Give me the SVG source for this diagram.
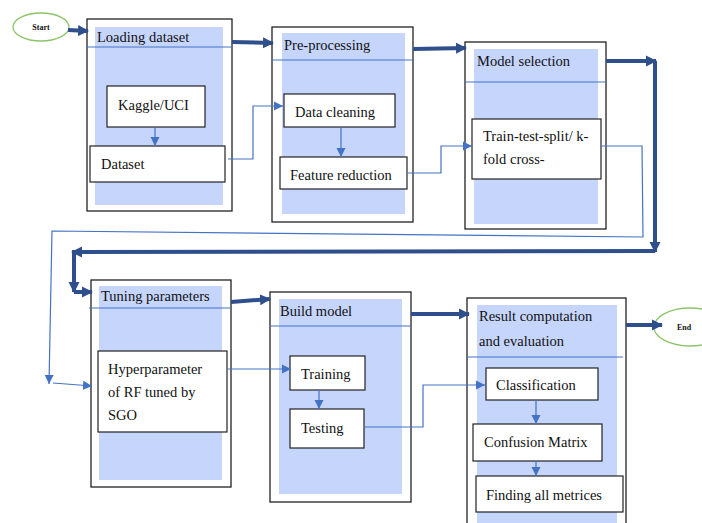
<svg xmlns="http://www.w3.org/2000/svg" width="702" height="523" viewBox="0 0 702 523">
<defs>
<style>
.outer{fill:#fff;stroke:#222;stroke-width:1.3}
.inner{fill:#c6d5fc;stroke:none}
.box{fill:#fff;stroke:#222;stroke-width:1.2}
.sep{stroke:#4472c4;stroke-width:1.2;fill:none}
.t{font-family:'Liberation Serif','DejaVu Serif',serif;font-size:14.5px;fill:#111}
.conn{stroke:#4472c4;stroke-width:1.2;fill:none}
.thick{stroke:#2f4f8c;stroke-width:4;fill:none}
.term{fill:#fff;stroke:#8cc468;stroke-width:1.3}
.small{font-family:'Liberation Serif','DejaVu Serif',serif;font-size:8px;font-weight:bold;fill:#111}
</style>
<marker id="a" markerUnits="userSpaceOnUse" markerWidth="10" markerHeight="10" refX="9" refY="5" orient="auto">
<path d="M0,0.5 L9,5 L0,9.5 Z" fill="#4472c4"/>
</marker>
<marker id="b" markerUnits="userSpaceOnUse" markerWidth="12" markerHeight="12" refX="10" refY="6" orient="auto">
<path d="M0,0.5 L11,6 L0,11.5 Z" fill="#2f4f8c"/>
</marker>
</defs>
<rect width="702" height="523" fill="#fff"/>

<g id="start">
<ellipse class="term" cx="41" cy="27" rx="28" ry="14"/>
<text class="small" x="41" y="30" text-anchor="middle">Start</text>
</g>

<g id="loading">
<rect class="outer" x="87" y="19" width="145" height="192"/>
<rect class="inner" x="95" y="27" width="128" height="178"/>
<line class="sep" x1="86" y1="47" x2="232" y2="47"/>
<text class="t" x="97" y="42">Loading dataset</text>
</g>
<g id="kaggle">
<rect class="box" x="107" y="86" width="98" height="41"/>
<text class="t" x="118" y="110">Kaggle/UCI</text>
</g>
<g id="dataset">
<rect class="box" x="90" y="146" width="135" height="36"/>
<text class="t" x="101" y="169">Dataset</text>
</g>

<g id="preprocessing">
<rect class="outer" x="272" y="27" width="141" height="195"/>
<rect class="inner" x="282" y="33" width="123" height="181"/>
<line class="sep" x1="272" y1="60" x2="413" y2="60"/>
<text class="t" x="284" y="50">Pre-processing</text>
</g>
<g id="datacleaning">
<rect class="box" x="284" y="94" width="111" height="33"/>
<text class="t" x="295" y="117">Data cleaning</text>
</g>
<g id="featurereduction">
<rect class="box" x="280" y="157" width="127" height="32"/>
<text class="t" x="290" y="180">Feature reduction</text>
</g>

<g id="modelselection">
<rect class="outer" x="465" y="42" width="141" height="187"/>
<rect class="inner" x="474" y="49" width="124" height="175"/>
<line class="sep" x1="465" y1="82" x2="606" y2="82"/>
<text class="t" x="477" y="66">Model selection</text>
</g>
<g id="traintest">
<rect class="box" x="472" y="119" width="129" height="60"/>
<text class="t" x="483" y="141">Train-test-split/ k-</text>
<text class="t" x="483" y="164">fold cross-</text>
</g>

<g id="tuning">
<rect class="outer" x="91" y="280" width="140" height="207"/>
<rect class="inner" x="99" y="286" width="123" height="194"/>
<line class="sep" x1="89" y1="308" x2="231" y2="308"/>
<text class="t" x="101" y="301">Tuning parameters</text>
</g>
<g id="hyperparameter">
<rect class="box" x="98" y="351" width="129" height="81"/>
<text class="t" x="108" y="374">Hyperparameter</text>
<text class="t" x="108" y="397">of RF tuned by</text>
<text class="t" x="108" y="420">SGO</text>
</g>

<g id="buildmodel">
<rect class="outer" x="270" y="292" width="141" height="210"/>
<rect class="inner" x="279" y="299" width="123" height="195"/>
<line class="sep" x1="270" y1="326" x2="411" y2="326"/>
<text class="t" x="280" y="316">Build model</text>
</g>
<g id="training">
<rect class="box" x="290" y="356" width="75" height="34"/>
<text class="t" x="301" y="379">Training</text>
</g>
<g id="testing">
<rect class="box" x="290" y="409" width="74" height="39"/>
<text class="t" x="301" y="433">Testing</text>
</g>

<g id="result">
<rect class="outer" x="467" y="298" width="159" height="230"/>
<rect class="inner" x="477" y="305" width="140" height="218"/>
<line class="sep" x1="467" y1="357" x2="623" y2="357"/>
<text class="t" x="479" y="321">Result computation</text>
<text class="t" x="479" y="346">and evaluation</text>
</g>
<g id="classification">
<rect class="box" x="486" y="368" width="112" height="32"/>
<text class="t" x="496" y="390">Classification</text>
</g>
<g id="confusion">
<rect class="box" x="473" y="424" width="129" height="37"/>
<text class="t" x="484" y="447">Confusion Matrix</text>
</g>
<g id="metrices">
<rect class="box" x="476" y="476" width="147" height="36"/>
<text class="t" x="486" y="500">Finding all metrices</text>
</g>

<g id="end">
<ellipse class="term" cx="690" cy="327" rx="36" ry="19"/>
<text class="small" x="684" y="330" text-anchor="middle">End</text>
</g>

<g id="connectors">
<line class="thick" x1="68" y1="30" x2="88" y2="31" marker-end="url(#b)"/>
<line class="thick" x1="232" y1="42" x2="273" y2="43" marker-end="url(#b)"/>
<line class="thick" x1="413" y1="49" x2="466" y2="48" marker-end="url(#b)"/>
<line class="thick" x1="606" y1="61" x2="656" y2="61" marker-end="url(#b)"/>
<line class="thick" x1="655" y1="61" x2="655" y2="252" marker-end="url(#b)"/>
<line class="thick" x1="655" y1="251" x2="72" y2="252" marker-end="url(#b)"/>
<line class="thick" x1="74" y1="252" x2="74" y2="292" marker-end="url(#b)"/>
<line class="thick" x1="74" y1="292" x2="92" y2="292" marker-end="url(#b)"/>
<line class="thick" x1="231" y1="302" x2="270" y2="299" marker-end="url(#b)"/>
<line class="thick" x1="411" y1="314" x2="469" y2="314" marker-end="url(#b)"/>
<line class="thick" x1="626" y1="325" x2="662" y2="325" marker-end="url(#b)"/>

<line class="conn" x1="155" y1="127" x2="155" y2="146" marker-end="url(#a)"/>
<polyline class="conn" points="228,159 253,159 253,106 283,106" marker-end="url(#a)"/>
<line class="conn" x1="341" y1="127" x2="341" y2="157" marker-end="url(#a)"/>
<polyline class="conn" points="407,173 441,173 441,146 472,146" marker-end="url(#a)"/>
<polyline class="conn" points="601,146 642,146 643,237 52,231 49,384" marker-end="url(#a)"/>
<line class="conn" x1="53" y1="383" x2="92" y2="386" marker-end="url(#a)"/>
<line class="conn" x1="227" y1="369" x2="291" y2="369" marker-end="url(#a)"/>
<line class="conn" x1="319" y1="390" x2="319" y2="409" marker-end="url(#a)"/>
<polyline class="conn" points="364,427 423,427 423,385 485,385" marker-end="url(#a)"/>
<line class="conn" x1="536" y1="400" x2="536" y2="424" marker-end="url(#a)"/>
<line class="conn" x1="536" y1="461" x2="536" y2="476" marker-end="url(#a)"/>
</g>
</svg>
